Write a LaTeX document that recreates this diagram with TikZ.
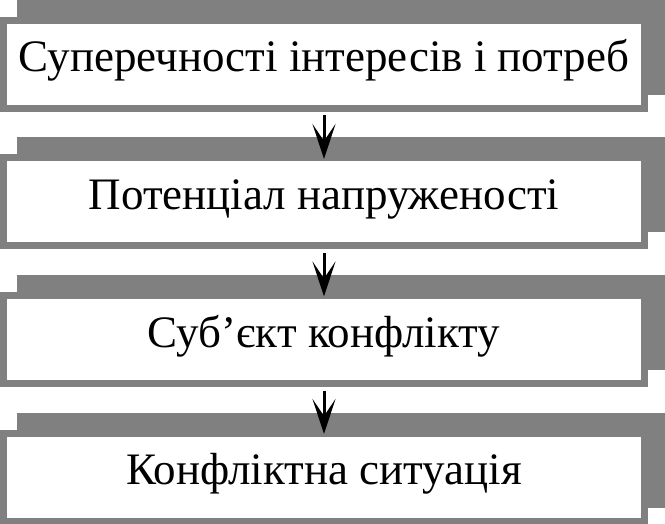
\documentclass[tikz,border=0pt]{standalone}
\usepackage{fontspec}
\setmainfont{Liberation Serif}
\usetikzlibrary{arrows.meta}
\definecolor{shadowgray}{HTML}{808080}
\begin{document}
\begin{tikzpicture}[x=1pt,y=-1pt,
  stagebox/.style={draw=shadowgray, line width=7pt, fill=white,
    minimum width=641.5pt, minimum height=88pt, inner sep=0pt,
    text height=30pt, text depth=15pt, font=\fontsize{45}{54}\selectfont},
  shadowbox/.style={fill=shadowgray},
  arr/.style={line width=3pt, -{Stealth[length=35pt,width=23pt,inset=17pt]},
    shorten <=3.5pt, shorten >=-4.5pt}]
\useasboundingbox (0,0) rectangle (665,524);
\fill[white] (0,0) rectangle (665,524);
% shadows
\fill[shadowbox] (17,0) rectangle (665,95);
\fill[shadowbox] (17,137.5) rectangle (665,232.5);
\fill[shadowbox] (17,275) rectangle (665,370);
\fill[shadowbox] (17,412.5) rectangle (665,507.5);
% boxes
\node[stagebox] (b1) at (324,64.5) {Суперечності інтересів і потреб};
\node[stagebox] (b2) at (324,202) {Потенціал напруженості};
\node[stagebox] (b3) at (324,339.5) {Суб’єкт конфлікту};
\node[stagebox] (b4) at (324,477) {Конфліктна ситуація};
% arrows
\draw[arr] (b1.south) -- (b2.north);
\draw[arr] (b2.south) -- (b3.north);
\draw[arr] (b3.south) -- (b4.north);
\end{tikzpicture}
\end{document}
